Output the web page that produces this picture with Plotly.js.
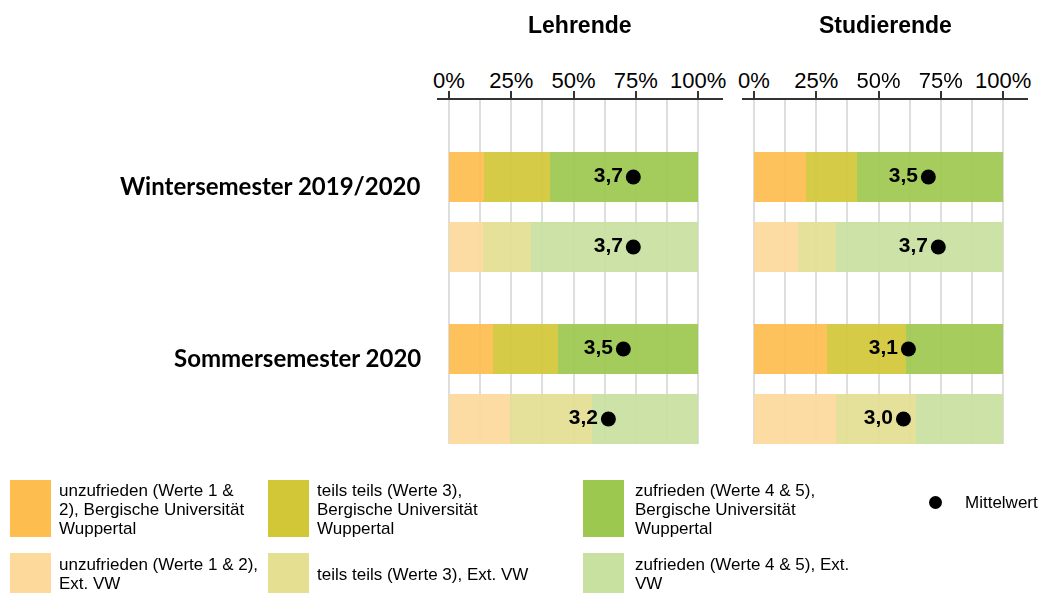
<!DOCTYPE html>
<html>
<head>
<meta charset="utf-8">
<script src="https://cdn.plot.ly/plotly-3.0.1.min.js"></script>
<style>html,body{margin:0;padding:0;background:#fff;}#chart{width:1045px;height:593px;}</style>
</head>
<body>
<div id="chart"></div>
<script>
// ---- data ----
var rowLabels = ["Wintersemester 2019/2020", "Sommersemester 2020"];
var panels = ["Lehrende", "Studierende"];
// rows: WS BUW, WS Ext. VW, SS BUW, SS Ext. VW
var lehrendeUnzufrieden = [14.1, 13.7, 17.7, 24.5];
var lehrendeTeils       = [26.5, 19.2, 26.0, 32.9];
var lehrendeZufrieden   = [59.4, 67.1, 56.3, 42.6];
var lehrendeMittel      = [3.7, 3.7, 3.5, 3.2];
var studUnzufrieden = [20.9, 17.7, 29.4, 32.9];
var studTeils       = [20.5, 15.4, 31.6, 32.0];
var studZufrieden   = [58.6, 66.9, 39.0, 35.1];
var studMittel      = [3.5, 3.7, 3.1, 3.0];
var tickVals = [0, 25, 50, 75, 100];
var tickText = ["0%", "25%", "50%", "75%", "100%"];
var legendLabels = [
  ["unzufrieden (Werte 1 &", "2), Bergische Universität", "Wuppertal"],
  ["teils teils (Werte 3),", "Bergische Universität", "Wuppertal"],
  ["zufrieden (Werte 4 & 5),", "Bergische Universität", "Wuppertal"],
  ["unzufrieden (Werte 1 & 2),", "Ext. VW"],
  ["teils teils (Werte 3), Ext. VW"],
  ["zufrieden (Werte 4 & 5), Ext.", "VW"]
];
var meanLegendLabel = "Mittelwert";

// ---- styles ----
var colDark  = ["#FDBD4F", "#D2C736", "#9DC84F"];
var colLight = ["#FDDA9C", "#E4DF91", "#C8E0A0"];
var yPos = [0, 1, 2.457, 3.457];
var W = 1045, H = 593;
var FONT = 'Arial, "Liberation Sans", sans-serif';

function rowColors(i) { return [colDark[i], colLight[i], colDark[i], colLight[i]]; }
function fmt(v) { return "<b>" + v.toFixed(1).replace(".", ",") + "</b>"; }

var traces = [];
var panelData = [
  {xa: "x", segs: [lehrendeUnzufrieden, lehrendeTeils, lehrendeZufrieden], mean: lehrendeMittel},
  {xa: "x2", segs: [studUnzufrieden, studTeils, studZufrieden], mean: studMittel}
];
panelData.forEach(function (p) {
  p.segs.forEach(function (vals, i) {
    traces.push({
      type: "bar", orientation: "h", x: vals, y: yPos, xaxis: p.xa, yaxis: "y",
      width: 50 / 70, marker: {color: rowColors(i), line: {width: 0}}, opacity: 0.92,
      hoverinfo: "x", showlegend: false
    });
  });
  traces.push({
    type: "scatter", mode: "markers+text", x: p.mean.map(function (m) { return m * 20; }), y: yPos,
    xaxis: p.xa, yaxis: "y", text: p.mean.map(fmt), textposition: "middle left",
    textfont: {family: FONT, size: 21, color: "#000"},
    marker: {color: "#000", size: 15}, showlegend: false, cliponaxis: false
  });
});

function xAxis(d0, d1) {
  return {
    domain: [d0 / W, d1 / W], range: [-4.8, 110], side: "top", anchor: "y",
    tickmode: "array", tickvals: tickVals, ticktext: tickText,
    tickfont: {family: FONT, size: 22, color: "#000"}, ticklabelstandoff: -6,
    ticks: "outside", ticklen: 7, tickwidth: 2, tickcolor: "#333",
    showline: true, linecolor: "#333", linewidth: 2,
    showgrid: true, gridcolor: "#dedede", gridwidth: 2,
    minor: {tickmode: "linear", tick0: 0, dtick: 12.5, showgrid: true, gridcolor: "#dedede", gridwidth: 2, ticks: ""},
    zeroline: false, fixedrange: true
  };
}

var annotations = [];
var shapes = [];
// panel titles
[580, 885].forEach(function (cx, k) {
  annotations.push({text: "<b>" + panels[k] + "</b>", x: cx / W, y: 1 - 25 / H, xref: "paper", yref: "paper",
    showarrow: false, font: {family: FONT, size: 23, color: "#000"}, xanchor: "center", yanchor: "middle"});
});
// row labels
[0, 2].forEach(function (ri, k) {
  annotations.push({text: "<b>" + rowLabels[k] + "</b>", x: 423 / W, xref: "paper", y: yPos[ri], yref: "y",
    yshift: -8, showarrow: false, xanchor: "right", yanchor: "middle",
    font: {family: 'Lato, "Open Sans", sans-serif', size: 24, color: "#000"}});
});
// legend
var legCols = [{sx: 10, tx: 57}, {sx: 268, tx: 315}, {sx: 583, tx: 633}];
var legRows = [{y0: 480, y1: 537, yc: 509}, {y0: 553, y1: 600, yc: 574}];
var LINE = 19;
legRows.forEach(function (r, ri) {
  legCols.forEach(function (c, ci) {
    var color = ri === 0 ? colDark[ci] : colLight[ci];
    shapes.push({type: "rect", xref: "paper", yref: "paper", x0: c.sx / W, x1: (c.sx + 41) / W,
      y0: 1 - r.y1 / H, y1: 1 - r.y0 / H, fillcolor: color, line: {width: 0}});
    var lines = legendLabels[ri * 3 + ci];
    lines.forEach(function (t, j) {
      var yc = r.yc + (j - (lines.length - 1) / 2) * LINE;
      annotations.push({text: t, xref: "paper", yref: "paper", x: c.tx / W, y: 1 - yc / H,
        xanchor: "left", yanchor: "middle", align: "left", showarrow: false,
        font: {family: FONT, size: 17, color: "#000"}});
    });
  });
});
shapes.push({type: "circle", xref: "paper", yref: "paper", x0: 929 / W, x1: 942 / W, y0: 1 - 509 / H, y1: 1 - 496 / H,
  fillcolor: "#000", line: {width: 0}});
annotations.push({text: meanLegendLabel, xref: "paper", yref: "paper", x: 963 / W, y: 1 - 502 / H,
  xanchor: "left", yanchor: "middle", showarrow: false, font: {family: FONT, size: 17, color: "#000"}});

var layout = {
  width: W, height: H, margin: {l: 0, r: 0, t: 0, b: 0},
  paper_bgcolor: "#fff", plot_bgcolor: "rgba(0,0,0,0)",
  barmode: "stack", bargap: 0, showlegend: false,
  xaxis: xAxis(437, 723),
  xaxis2: xAxis(742, 1028),
  yaxis: {domain: [1 - 444 / H, 1 - 100 / H], range: [3.814, -1.1], showticklabels: false, showgrid: false,
    zeroline: false, showline: false, ticks: "", fixedrange: true},
  annotations: annotations, shapes: shapes
};

Plotly.newPlot("chart", traces, layout, {displayModeBar: false, staticPlot: true});
</script>
</body>
</html>
